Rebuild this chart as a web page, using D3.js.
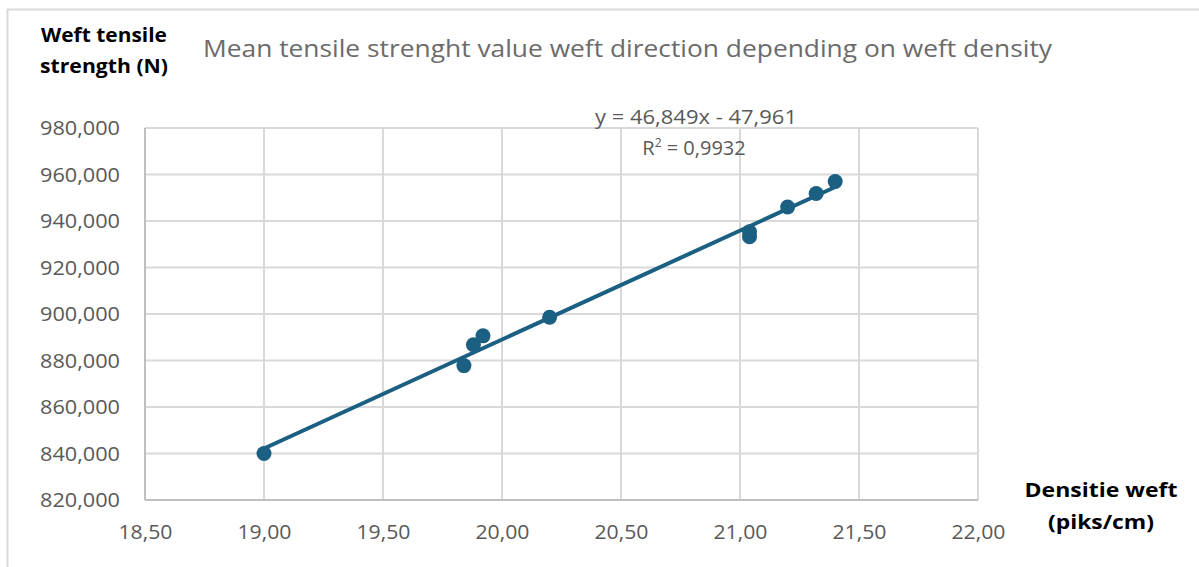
<!DOCTYPE html>
<html>
<head>
<meta charset="utf-8">
<script src="https://cdn.jsdelivr.net/npm/d3@7/dist/d3.min.js"></script>
<style>
  html, body { margin: 0; padding: 0; background: #fff; }
  svg { display: block; }
  text { font-family: "Open Sans", "Liberation Sans", sans-serif; }
</style>
</head>
<body>
<svg id="chart" width="1199" height="567"></svg>
<script>
// Weft density (piks/cm) and measured mean tensile strength (N)
const density  = [19.00, 19.84, 19.88, 19.92, 20.20, 21.04, 21.04, 21.20, 21.32, 21.40];
const strength = [840.0, 877.8, 886.8, 890.6, 898.6, 933.2, 935.4, 946.0, 951.8, 957.0];

// Linear trendline coefficients
const slope = 46.849;
const intercept = -47.961;
const rSquared = 0.9932;

const xTicks = [18.5, 19.0, 19.5, 20.0, 20.5, 21.0, 21.5, 22.0];
const yTicks = [820, 840, 860, 880, 900, 920, 940, 960, 980];

const titleText = "Mean tensile strenght value weft direction depending on weft density";
const yLabelLines = ["Weft tensile", "strength (N)"];
const xLabelLines = ["Densitie weft", "(piks/cm)"];

const fmtX = v => d3.format(".2f")(v).replace(".", ",");
const fmtY = v => d3.format(".3f")(v).replace(".", ",");
const fmtCoef = v => d3.format(".3f")(Math.abs(v)).replace(".", ",");

const svg = d3.select("#chart");
const blue = "#1b5f82";
const grid = "#d9d9d9";
const tickColor = "#595959";

// outer frame (top and left edges)
svg.append("path")
  .attr("d", "M7.5,567 V9.5 H1199")
  .attr("fill", "none")
  .attr("stroke", "#d9d9d9")
  .attr("stroke-width", 2);

const plot = { left: 145, right: 978, top: 128, bottom: 500 };

const x = d3.scaleLinear().domain([18.5, 22.0]).range([plot.left, plot.right]);
const y = d3.scaleLinear().domain([820, 980]).range([plot.bottom, plot.top]);

// gridlines
const g = svg.append("g");
g.selectAll("line.vg").data(xTicks).join("line")
  .attr("class", "vg")
  .attr("x1", d => x(d)).attr("x2", d => x(d))
  .attr("y1", plot.top).attr("y2", plot.bottom)
  .attr("stroke", grid).attr("stroke-width", 2);
g.selectAll("line.hg").data(yTicks).join("line")
  .attr("class", "hg")
  .attr("x1", plot.left).attr("x2", plot.right)
  .attr("y1", d => y(d)).attr("y2", d => y(d))
  .attr("stroke", grid).attr("stroke-width", 2);

// axis lines
svg.append("line")
  .attr("x1", plot.left).attr("x2", plot.left)
  .attr("y1", plot.top).attr("y2", plot.bottom)
  .attr("stroke", "#bfbfbf").attr("stroke-width", 2);
svg.append("line")
  .attr("x1", plot.left).attr("x2", plot.right)
  .attr("y1", plot.bottom).attr("y2", plot.bottom)
  .attr("stroke", "#bfbfbf").attr("stroke-width", 2);

// tick labels via d3 axes (no tick marks, no domain)
const xAxis = d3.axisBottom(x).tickValues(xTicks).tickFormat(fmtX).tickSize(0).tickPadding(24);
const yAxis = d3.axisLeft(y).tickValues(yTicks).tickFormat(fmtY).tickSize(0).tickPadding(25);

const xa = svg.append("g").attr("transform", `translate(0,${plot.bottom})`).call(xAxis);
const ya = svg.append("g").attr("transform", `translate(${plot.left},0)`).call(yAxis);
[xa, ya].forEach(a => {
  a.select(".domain").remove();
  a.selectAll("text")
    .attr("fill", tickColor)
    .style("font-size", "20.5px")
    .style("font-family", "'Open Sans', 'Liberation Sans', sans-serif");
});
ya.selectAll("text").attr("textLength", 80).attr("lengthAdjust", "spacingAndGlyphs");
xa.selectAll("text").attr("textLength", 54).attr("lengthAdjust", "spacingAndGlyphs");

// trendline over the data range
const xMin = d3.min(density), xMax = d3.max(density);
svg.append("line")
  .attr("x1", x(xMin)).attr("y1", y(slope * xMin + intercept))
  .attr("x2", x(xMax)).attr("y2", y(slope * xMax + intercept))
  .attr("stroke", blue).attr("stroke-width", 4)
  .attr("stroke-linecap", "round");

// data points
svg.append("g").selectAll("circle")
  .data(density.map((d, i) => [d, strength[i]]))
  .join("circle")
  .attr("cx", d => x(d[0]))
  .attr("cy", d => y(d[1]))
  .attr("r", 7.5)
  .attr("fill", blue);

// title
svg.append("text")
  .attr("x", 203).attr("y", 57)
  .attr("fill", "#6b6b6b")
  .style("font-size", "24px")
  .attr("textLength", 849)
  .attr("lengthAdjust", "spacingAndGlyphs")
  .text(titleText);

// y axis title
const yl = svg.append("text")
  .attr("fill", "#000")
  .style("font-size", "19px")
  .style("font-weight", "bold");
yl.selectAll("tspan").data(yLabelLines).join("tspan")
  .attr("x", 104).attr("text-anchor", "middle")
  .attr("y", (d, i) => 42 + i * 31)
  .attr("textLength", (d, i) => i === 0 ? 126 : 128)
  .attr("lengthAdjust", "spacingAndGlyphs")
  .text(d => d);

// x axis title
const xl = svg.append("text")
  .attr("fill", "#000")
  .style("font-size", "20px")
  .style("font-weight", "bold");
xl.selectAll("tspan").data(xLabelLines).join("tspan")
  .attr("x", 1101).attr("text-anchor", "middle")
  .attr("y", (d, i) => 497 + i * 32)
  .attr("textLength", (d, i) => i === 0 ? 153 : 106)
  .attr("lengthAdjust", "spacingAndGlyphs")
  .text(d => d);

// trendline equation
const eq = svg.append("text")
  .attr("fill", tickColor)
  .style("font-size", "20px")
  .attr("text-anchor", "middle");
eq.append("tspan")
  .attr("x", 696).attr("y", 124)
  .attr("textLength", 202)
  .attr("lengthAdjust", "spacingAndGlyphs")
  .text(`y = ${fmtCoef(slope)}x ${intercept < 0 ? "-" : "+"} ${fmtCoef(intercept)}`);
const r2 = eq.append("tspan").attr("x", 694).attr("y", 155);
r2.append("tspan").text("R");
r2.append("tspan").attr("dy", -8).style("font-size", "12px").text("2");
r2.append("tspan").attr("dy", 8).text(` = ${d3.format(".4f")(rSquared).replace(".", ",")}`);
</script>
</body>
</html>
